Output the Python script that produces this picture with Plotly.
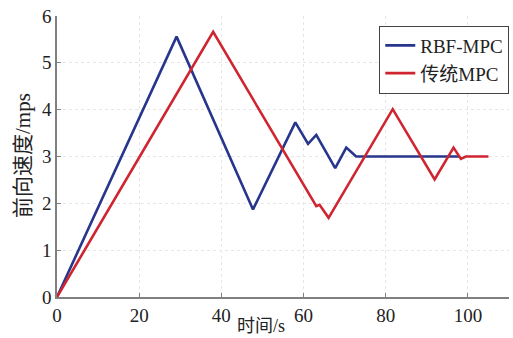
import plotly.graph_objects as go

# RBF-MPC series
rbf_t = [0, 29.1, 47.7, 58.0, 61.1, 63.1, 67.7, 70.4, 72.8, 98.0]
rbf_v = [0, 5.56, 1.87, 3.73, 3.27, 3.46, 2.75, 3.19, 3.0, 3.0]

# 传统MPC series
mpc_t = [0, 38.0, 63.1, 63.9, 66.1, 81.7, 91.9, 96.5, 98.3, 99.5, 105.0]
mpc_v = [0, 5.66, 1.94, 1.97, 1.69, 4.01, 2.51, 3.19, 2.95, 3.0, 3.0]

x_ticks = [0, 20, 40, 60, 80, 100]
y_ticks = [0, 1, 2, 3, 4, 5, 6]

font_main = "Liberation Serif, Times New Roman, Noto Sans CJK SC, serif"

fig = go.Figure()
fig.add_trace(go.Scatter(x=rbf_t, y=rbf_v, mode="lines", name="RBF-MPC",
                         line=dict(color="#27368c", width=2.6)))
fig.add_trace(go.Scatter(x=mpc_t, y=mpc_v, mode="lines", name="传统MPC",
                         line=dict(color="#cf2530", width=2.6)))

axis_common = dict(
    showline=True, linecolor="#808080", linewidth=1.5,
    ticks="inside", ticklen=4, tickcolor="#808080",
    showgrid=True, gridcolor="#e6e6e6", griddash="dot", gridwidth=1,
    zeroline=False, mirror=False,
    tickfont=dict(family=font_main, size=19, color="#222"),
)

fig.update_layout(
    width=513, height=338,
    margin=dict(l=57, r=4, t=16, b=41),
    paper_bgcolor="white", plot_bgcolor="white",
    xaxis=dict(range=[0, 110], tickvals=x_ticks, **axis_common),
    yaxis=dict(range=[0, 6], tickvals=y_ticks, **axis_common),
    legend=dict(x=0.713, y=0.966, xanchor="left", yanchor="top",
                bordercolor="#444", borderwidth=1, bgcolor="white",
                font=dict(family=font_main, size=19, color="#222"),
                tracegroupgap=0, itemwidth=30),
    showlegend=True,
    annotations=[
        dict(text="时间/s", xref="paper", yref="paper", x=(261-57)/452, y=-0.103,
             xanchor="center", yanchor="middle", showarrow=False,
             font=dict(family=font_main, size=18, color="#222")),
        dict(text="前向速度/mps", xref="paper", yref="paper", x=-0.075, y=0.502,
             xanchor="center", yanchor="middle", showarrow=False, textangle=-90,
             font=dict(family=font_main, size=21, color="#222")),
    ],
)

fig.write_html("out.html")
